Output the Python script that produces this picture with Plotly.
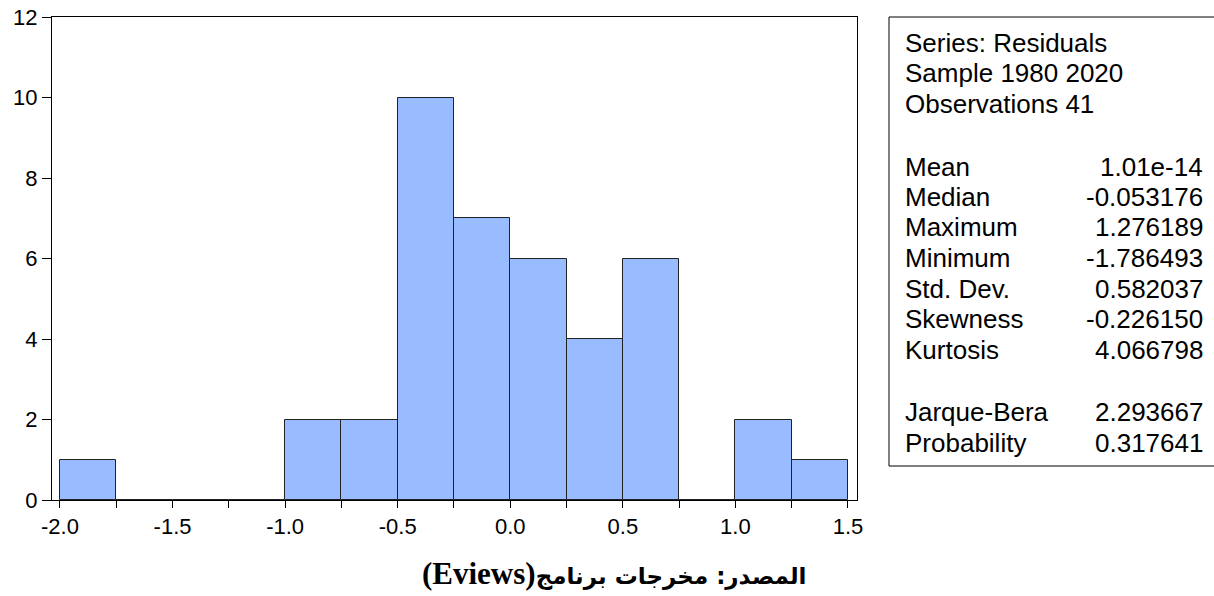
import plotly.graph_objects as go

# ---- data ----
bin_left = [-2.0, -1.75, -1.5, -1.25, -1.0, -0.75, -0.5, -0.25, 0.0, 0.25, 0.5, 0.75, 1.0, 1.25]
counts = [1, 0, 0, 0, 2, 2, 10, 7, 6, 4, 6, 0, 2, 1]
bin_width = 0.25

x_tickvals = [-2.0, -1.75, -1.5, -1.25, -1.0, -0.75, -0.5, -0.25, 0.0, 0.25, 0.5, 0.75, 1.0, 1.25, 1.5]
x_ticktext = ["-2.0", "", "-1.5", "", "-1.0", "", "-0.5", "", "0.0", "", "0.5", "", "1.0", "", "1.5"]
y_tickvals = [0, 2, 4, 6, 8, 10, 12]

stat_header = ["Series: Residuals", "Sample 1980 2020", "Observations 41"]
stat_names = ["Mean", "Median", "Maximum", "Minimum", "Std. Dev.", "Skewness", "Kurtosis"]
stat_values = ["1.01e-14", "-0.053176", "1.276189", "-1.786493", "0.582037", "-0.226150", "4.066798"]
test_names = ["Jarque-Bera", "Probability"]
test_values = ["2.293667", "0.317641"]

caption_arabic = "المصدر: مخرجات برنامج"
caption_latin = "(Eviews)"

# ---- layout geometry (picture pixels; page body margin is removed) ----
W, H = 1214, 596
L, R, T, B = 52, 857, 17, 500          # plot frame
pw, ph = R - L, B - T


def px(x):
    return (x - L) / pw


def py(y):
    return (B - y) / ph


fig = go.Figure()
fig.add_trace(go.Bar(
    x=bin_left, y=counts, width=bin_width, offset=0,
    marker=dict(color="#99bbff", line=dict(color="#222222", width=1)),
    hoverinfo="x+y", showlegend=False,
))

font_main = "Liberation Sans, Arial, sans-serif"

fig.update_layout(
    width=W, height=H,
    margin=dict(l=L, r=W - R, t=T, b=H - B, autoexpand=False),
    paper_bgcolor="white", plot_bgcolor="white",
    bargap=0,
    font=dict(family=font_main, size=22, color="black"),
    xaxis=dict(
        range=[-2.0355, 1.54], tickvals=x_tickvals, ticktext=x_ticktext,
        ticks="outside", ticklen=7, tickcolor="black", tickwidth=1,
        showline=True, linecolor="black", linewidth=1, mirror=True,
        showgrid=False, zeroline=False, tickfont=dict(size=22),
        ticklabeloverflow="allow",
    ),
    yaxis=dict(
        range=[0, 12], tickvals=y_tickvals,
        ticks="outside", ticklen=9, tickcolor="black", tickwidth=1,
        showline=True, linecolor="black", linewidth=1, mirror=True,
        showgrid=False, zeroline=False, tickfont=dict(size=22),
        ticklabeloverflow="allow",
    ),
)

# stats box
fig.add_shape(type="rect", xref="paper", yref="paper",
              x0=px(889), x1=px(1240), y0=py(466), y1=py(17),
              line=dict(color="black", width=1), fillcolor="rgba(0,0,0,0)")

header_y = [43, 73, 104]
stat_y = [167, 197, 227, 258, 289, 319, 350]
test_y = [412, 443]
text_x = 903
val_x = 1205
fs = 26

anns = []
for t, y in zip(stat_header, header_y):
    anns.append(dict(text=t, x=px(text_x), y=py(y), xanchor="left", yanchor="middle"))
for n, v, y in list(zip(stat_names, stat_values, stat_y)) + list(zip(test_names, test_values, test_y)):
    anns.append(dict(text=n, x=px(text_x), y=py(y), xanchor="left", yanchor="middle"))
    anns.append(dict(text=v, x=px(val_x), y=py(y), xanchor="right", yanchor="middle"))
for a in anns:
    a.update(xref="paper", yref="paper", showarrow=False,
             font=dict(family=font_main, size=fs, color="black"))
    fig.add_annotation(**a)

caption = ("<span style=\"font-family:'Liberation Serif';font-size:31px\"><b>" + caption_latin + "</b></span>"
           + "<b>" + caption_arabic + "</b>")
fig.add_annotation(text=caption, xref="paper", yref="paper",
                   x=px(614), y=py(573), xanchor="center", yanchor="middle",
                   showarrow=False,
                   font=dict(family="DejaVu Sans, sans-serif", size=23, color="black"))

fig.write_html(
    "out.html",
    config={"displayModeBar": False},
    post_script="document.body.style.margin='0px';document.body.style.overflow='hidden';",
)
